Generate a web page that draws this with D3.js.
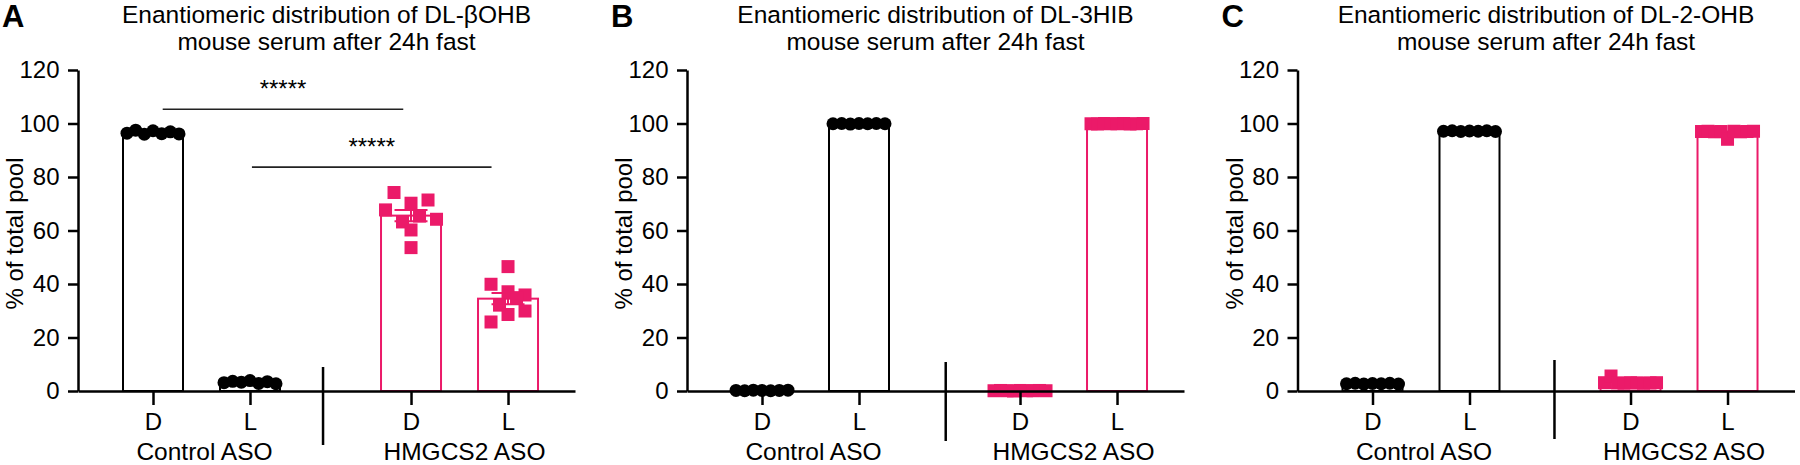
<!DOCTYPE html>
<html>
<head>
<meta charset="utf-8">
<script src="https://cdn.jsdelivr.net/npm/d3@7"></script>
<style>
  html, body { margin: 0; padding: 0; background: #fff; }
  svg { display: block; font-family: "Liberation Sans", Arial, Helvetica, sans-serif; }
</style>
</head>
<body>
<svg id="chart" width="1800" height="465"></svg>
<script>
// ---------------- DATA ----------------
const categories = ["D", "L"];
const groups = ["Control ASO", "HMGCS2 ASO"];
const yTickValues = [0, 20, 40, 60, 80, 100, 120];
const panelLetters = ["A", "B", "C"];
const titleLines1 = [
  "Enantiomeric distribution of DL-\u03B2OHB",
  "Enantiomeric distribution of DL-3HIB",
  "Enantiomeric distribution of DL-2-OHB"
];
const titleLine2 = "mouse serum after 24h fast";
const yAxisLabel = "% of total pool";

// Panel A : DL-betaOHB (% of total pool)
const bohbCtrlD = [96.4, 97.5, 96.0, 97.3, 96.2, 96.9, 96.1];
const bohbCtrlL = [3.1, 3.6, 3.3, 3.9, 2.8, 3.5, 2.7];
const bohbHmgD  = [74.2, 70.2, 71.4, 67.7, 63.2, 65.4, 64.2, 60.2, 53.6];
const bohbHmgL  = [46.5, 39.9, 37.1, 35.9, 32.1, 34.9, 25.8, 28.6, 29.9];

// Panel B : DL-3HIB
const hibCtrlD = [0.2, 0.1, 0.3, 0.2, 0.1, 0.2, 0.3];
const hibCtrlL = [99.9, 100.0, 99.8, 100.0, 99.9, 100.0, 99.9];
const hibHmgD  = [0.1, 0.2, 0.1, 0.0, 0.2, 0.1, 0.1, 0.2, 0.1];
const hibHmgL  = [99.9, 99.8, 100.0, 99.9, 99.9, 100.0, 99.8, 99.9, 100.0];

// Panel C : DL-2-OHB
const ohbCtrlD = [2.7, 2.9, 2.6, 2.8, 2.7, 2.9, 2.6];
const ohbCtrlL = [97.1, 97.3, 97.0, 97.2, 97.1, 97.3, 97.0];
const ohbHmgD  = [3.1, 5.6, 3.0, 2.9, 3.1, 3.0, 2.9, 3.0, 3.1];
const ohbHmgL  = [97.0, 97.1, 96.9, 97.0, 94.1, 97.1, 96.9, 97.0, 97.1];

// Significance brackets (panel A): height in % units, ends in category-slot units
const sigLabels = ["*****", "*****"];
const sigLevels = [105.3, 83.7];
const sigStart  = [0.10, 1.02];
const sigEnd    = [2.58, 3.49];

// ---------------- LAYOUT ----------------
const svg = d3.select("#chart");
const FONT = '"Liberation Sans", Arial, Helvetica, sans-serif';
const PINK = "#EB1A69";
const groupColor = ["#000000", PINK];
const Y0 = 391, Y120 = 70;
const AXIS_LEN = 497;
const CAT_OFFSET = 75, CAT_STEP = 97;
const slots = [0, 1, 2.66, 3.66];
const BAR_W = 60;
const CAP_W = 33;
const FS = 24;
const groupLabelShift = [3, 5];

const panels = [
  { letter: panelLetters[0], title: titleLines1[0], series: [bohbCtrlD, bohbCtrlL, bohbHmgD, bohbHmgL],
    axisX: 78, sepSlot: 1.753, sepTop: 367, sepBottom: 445, sig: true },
  { letter: panelLetters[1], title: titleLines1[1], series: [hibCtrlD, hibCtrlL, hibHmgD, hibHmgL],
    axisX: 687, sepSlot: 1.894, sepTop: 362, sepBottom: 441, sig: false },
  { letter: panelLetters[2], title: titleLines1[2], series: [ohbCtrlD, ohbCtrlL, ohbHmgD, ohbHmgL],
    axisX: 1297.5, sepSlot: 1.876, sepTop: 360, sepBottom: 439, sig: false }
];

function layoutPoints(values, y, symbolPx, maxHalf, maxStep) {
  const idx = d3.range(values.length).sort((a, b) => values[b] - values[a]);
  const rows = [];
  let cur = null;
  idx.forEach(i => {
    const py = y(values[i]);
    if (!cur || py - cur.top > symbolPx) { cur = { top: py, members: [] }; rows.push(cur); }
    cur.members.push(i);
  });
  const off = new Array(values.length).fill(0);
  rows.forEach(r => {
    r.members.sort((a, b) => a - b);
    const k = r.members.length;
    const step = k > 1 ? Math.min(maxStep, 2 * maxHalf / (k - 1)) : 0;
    r.members.forEach((i, j) => { off[i] = (j - (k - 1) / 2) * step; });
  });
  return off;
}

panels.forEach(p => {
  const g = svg.append("g");
  const y = d3.scaleLinear().domain([0, 120]).range([Y0, Y120]);
  const x = d3.scaleLinear()
    .domain([-CAT_OFFSET / CAT_STEP, (AXIS_LEN - CAT_OFFSET) / CAT_STEP])
    .range([p.axisX, p.axisX + AXIS_LEN]);
  const midX = p.axisX + AXIS_LEN / 2;

  // panel letter
  g.append("text").attr("x", p.axisX - 76).attr("y", 27)
    .attr("font-size", 31).attr("font-weight", "bold").attr("font-family", FONT)
    .text(p.letter);

  // title
  g.append("text").attr("x", midX).attr("y", 22.5).attr("text-anchor", "middle")
    .attr("font-size", 24.5).attr("font-family", FONT).text(p.title);
  g.append("text").attr("x", midX).attr("y", 50).attr("text-anchor", "middle")
    .attr("font-size", 24.5).attr("font-family", FONT).text(titleLine2);

  // y label
  g.append("text")
    .attr("transform", `translate(${p.axisX - 55},${(Y0 + Y120) / 2 + 3}) rotate(-90)`)
    .attr("text-anchor", "middle").attr("font-size", FS).attr("font-family", FONT)
    .text(yAxisLabel);

  // bars, error bars, points
  p.series.forEach((vals, si) => {
    const grp = si < 2 ? 0 : 1;
    const col = groupColor[grp];
    const cx = x(slots[si]);
    const mean = d3.mean(vals);
    const sem = d3.deviation(vals) / Math.sqrt(vals.length);

    g.append("rect")
      .attr("x", cx - BAR_W / 2).attr("y", y(mean))
      .attr("width", BAR_W).attr("height", Math.max(0, y(0) - y(mean)))
      .attr("fill", "none").attr("stroke", col).attr("stroke-width", 2);

    const eg = g.append("g").attr("stroke", col).attr("stroke-width", 2);
    eg.append("line").attr("x1", cx).attr("x2", cx).attr("y1", y(mean - sem)).attr("y2", y(mean + sem));
    eg.append("line").attr("x1", cx - CAP_W / 2).attr("x2", cx + CAP_W / 2).attr("y1", y(mean + sem)).attr("y2", y(mean + sem));
    eg.append("line").attr("x1", cx - CAP_W / 2).attr("x2", cx + CAP_W / 2).attr("y1", y(mean - sem)).attr("y2", y(mean - sem));

    if (grp === 0) {
      const off = layoutPoints(vals, y, 12, 26, 17);
      g.append("g").selectAll("circle").data(vals).join("circle")
        .attr("cx", (d, i) => cx + off[i]).attr("cy", d => y(d)).attr("r", 6.5)
        .attr("fill", col);
    } else {
      const off = layoutPoints(vals, y, 13, 26, 17);
      g.append("g").selectAll("rect").data(vals).join("rect")
        .attr("x", (d, i) => cx + off[i] - 6.5).attr("y", d => y(d) - 6.5)
        .attr("width", 13).attr("height", 13)
        .attr("fill", col);
    }
  });

  // y axis
  const yAxis = d3.axisLeft(y).tickValues(yTickValues).tickSize(10).tickSizeOuter(0).tickPadding(8.5);
  const ya = g.append("g").attr("transform", `translate(${p.axisX},0)`).call(yAxis);
  ya.selectAll("path, line").attr("stroke", "#000").attr("stroke-width", 2.5);
  ya.selectAll("text").attr("font-size", FS).attr("font-family", FONT).attr("fill", "#000");

  // x axis
  const xAxis = d3.axisBottom(x).tickValues(slots).tickFormat((d, i) => categories[i % 2])
    .tickSize(14).tickSizeOuter(0).tickPadding(8);
  const xa = g.append("g").attr("transform", `translate(0,${Y0})`).call(xAxis);
  xa.selectAll("path, line").attr("stroke", "#000").attr("stroke-width", 2.5);
  xa.selectAll("text").attr("font-size", FS).attr("font-family", FONT).attr("fill", "#000");

  // group labels
  groups.forEach((gl, gi) => {
    g.append("text").attr("x", x((slots[gi * 2] + slots[gi * 2 + 1]) / 2) + groupLabelShift[gi]).attr("y", 460)
      .attr("text-anchor", "middle").attr("font-size", 24.5).attr("font-family", FONT).text(gl);
  });

  // group separator
  g.append("line").attr("x1", x(p.sepSlot)).attr("x2", x(p.sepSlot))
    .attr("y1", p.sepTop).attr("y2", p.sepBottom)
    .attr("stroke", "#000").attr("stroke-width", 2.5);

  // significance
  if (p.sig) {
    sigLevels.forEach((lv, k) => {
      const x1 = x(sigStart[k]), x2 = x(sigEnd[k]);
      g.append("line").attr("x1", x1).attr("x2", x2).attr("y1", y(lv)).attr("y2", y(lv))
        .attr("stroke", "#222").attr("stroke-width", 1.6);
      g.append("text").attr("x", (x1 + x2) / 2).attr("y", y(lv) - 12)
        .attr("text-anchor", "middle").attr("font-size", FS).attr("font-family", FONT)
        .text(sigLabels[k]);
    });
  }
});
</script>
</body>
</html>
